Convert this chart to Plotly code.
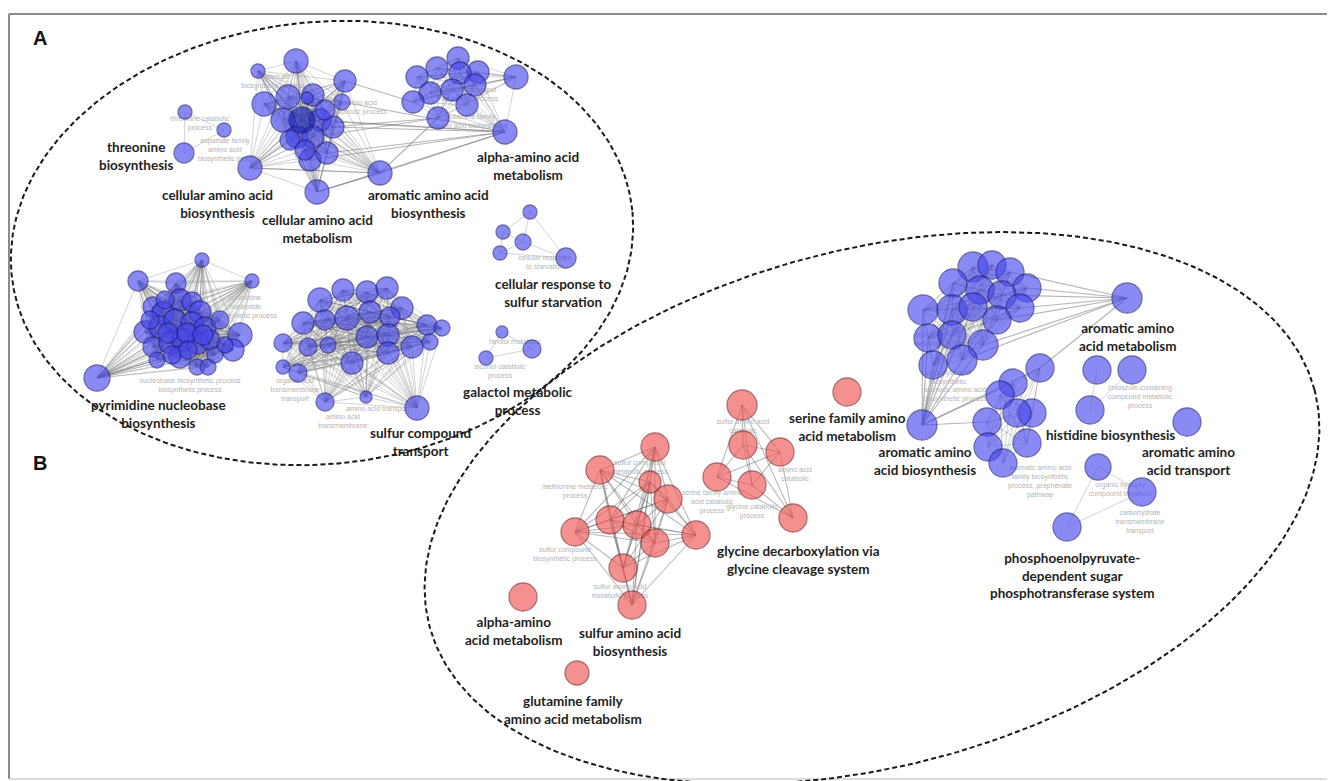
import itertools
import numpy as np
import plotly.graph_objects as go

W, H = 1335, 781
PAGE_MARGIN = 8  # browser body margin around the plot div

# ---------------- nodes (x, y in picture pixels, diameter) ----------------
thr_x = [185, 224, 184]
thr_y = [112, 130, 153]
thr_d = [14, 14, 20]

cel_x = [258, 296, 345, 264, 288, 313, 307, 283, 320, 333, 342, 297, 313, 310, 327, 250, 317, 380,
         290, 325, 305]
cel_y = [71, 61, 81, 104, 97, 95, 98, 120, 120, 127, 102, 137, 137, 160, 153, 168, 192, 173,
         140, 110, 150]
cel_d = [14, 24, 22, 24, 24, 22, 12, 24, 22, 22, 16, 22, 22, 22, 22, 24, 24, 24,
         20, 20, 20]

hub_x = [302]
hub_y = [120]
hub_d = [26]

alp_x = [458, 437, 478, 417, 460, 475, 430, 452, 413, 467, 438, 516, 505]
alp_y = [58, 68, 72, 77, 73, 85, 93, 90, 102, 105, 118, 77, 132]
alp_d = [22, 22, 22, 22, 22, 22, 22, 22, 22, 22, 22, 24, 24]

crs_x = [530, 503, 523, 500, 566]
crs_y = [212, 232, 242, 253, 258]
crs_d = [14, 14, 16, 14, 20]

gal_x = [502, 532, 486]
gal_y = [332, 349, 358]
gal_d = [12, 18, 14]

pyr_x = [202, 138, 176, 252, 97, 240, 233, 153, 163, 180, 192, 200, 145, 160, 175, 192, 205,
         153, 170, 183, 198, 210, 157, 180, 197, 208, 165, 220,
         168, 187, 203, 172, 188, 215, 150, 225]
pyr_y = [260, 281, 283, 281, 378, 335, 350, 307, 313, 300, 302, 312, 332, 327, 320, 323, 328,
         347, 343, 340, 343, 340, 360, 357, 367, 367, 300, 320,
         333, 333, 335, 355, 350, 355, 320, 345]
pyr_d = [14, 20, 20, 14, 26, 24, 22, 20, 22, 22, 20, 22, 22, 22, 22, 22, 22,
         20, 22, 22, 22, 20, 16, 22, 16, 16, 18, 18,
         20, 20, 20, 18, 18, 16, 18, 16]

sul_x = [320, 343, 367, 387, 303, 325, 347, 370, 402, 390, 427, 442, 283, 308, 328, 367, 388,
         388, 412, 430, 352, 283, 298, 325, 366, 417]
sul_y = [300, 290, 292, 288, 323, 320, 318, 312, 308, 317, 325, 328, 343, 347, 345, 337, 335,
         353, 347, 342, 363, 367, 373, 402, 397, 408]
sul_d = [24, 22, 22, 22, 22, 20, 24, 22, 22, 20, 20, 16, 18, 18, 16, 22, 22,
         22, 22, 16, 22, 14, 18, 18, 12, 24]

bb_x = [973, 992, 1010, 953, 1027, 980, 1002, 923, 952, 973, 1020, 997, 928, 952, 983, 933, 962]
bb_y = [267, 265, 272, 283, 288, 290, 295, 310, 310, 307, 308, 320, 338, 335, 345, 365, 360]
bb_d = [30, 28, 28, 28, 28, 28, 28, 30, 30, 28, 28, 28, 28, 28, 30, 28, 30]

aam_x = [1127]
aam_y = [298]
aam_d = [30]

aab_x = [922]
aab_y = [425]
aab_d = [30]

hb_x = [1040, 1013, 1000, 1032, 1017, 987, 1027, 988, 1003]
hb_y = [368, 383, 395, 413, 413, 422, 443, 447, 463]
hb_d = [28, 28, 28, 28, 28, 28, 28, 28, 28]

his_x = [1097, 1132, 1090]
his_y = [370, 370, 410]
his_d = [28, 28, 28]

aat_x = [1187]
aat_y = [422]
aat_d = [28]

pts_x = [1098, 1142, 1067]
pts_y = [467, 492, 527]
pts_d = [26, 28, 28]

ser_x = [847]
ser_y = [392]
ser_d = [28]

gly_x = [742, 743, 780, 717, 752, 793]
gly_y = [405, 445, 452, 477, 485, 518]
gly_d = [30, 28, 28, 28, 28, 28]

saa_x = [655, 600, 650, 668, 610, 637, 575, 655, 696, 623, 632]
saa_y = [447, 470, 482, 499, 520, 525, 532, 543, 535, 568, 605]
saa_d = [28, 28, 22, 28, 28, 28, 28, 28, 28, 28, 28]

ala_x = [523]
ala_y = [597]
ala_d = [28]

gln_x = [577]
gln_y = [673]
gln_d = [24]

# ---------------- cluster labels ----------------
label_text = [
    "threonine<br>biosynthesis",
    "cellular amino acid<br>biosynthesis",
    "cellular amino acid<br>metabolism",
    "aromatic amino acid<br>biosynthesis",
    "alpha-amino acid<br>metabolism",
    "cellular response to<br>sulfur starvation",
    "galactol metabolic<br>process",
    "pyrimidine nucleobase<br>biosynthesis",
    "sulfur compound<br>transport",
    "aromatic amino<br>acid metabolism",
    "aromatic amino<br>acid biosynthesis",
    "histidine biosynthesis",
    "aromatic amino<br>acid transport",
    "phosphoenolpyruvate-<br>dependent sugar<br>phosphotransferase system",
    "serine family amino<br>acid metabolism",
    "glycine decarboxylation via<br>glycine cleavage system",
    "sulfur amino acid<br>biosynthesis",
    "alpha-amino<br>acid metabolism",
    "glutamine family<br>amino acid metabolism",
]
label_x = [136, 217, 317, 428, 528, 553, 518, 158, 420, 1128, 925, 1110, 1188, 1072, 847, 798, 630, 514, 573]
label_y = [156, 204, 229, 204, 166, 293, 401, 414, 442, 337, 461, 435, 461, 575, 427, 560, 642, 631, 710]

# faint term labels
term_text = [
    "threonine catabolic<br>process", "aspartate family<br>amino acid<br>biosynthetic proc.",
    "chorismate<br>biosynthetic process", "amino acid<br>catabolic process",
    "sulfur compound<br>metabolic process", "glutamine family<br>amino acid biosynthesis",
    "cellular response<br>to starvation", "alcohol catabolic<br>process", "hexitol metabolic",
    "pyrimidine<br>nucleotide<br>biosynthetic process", "nucleobase biosynthetic process<br>biosynthetic process",
    "organic acid<br>transmembrane<br>transport", "amino acid<br>transmembrane", "amino acid transport",
    "alpha-amino acid<br>metabolic process", "carboxylic acid<br>biosynthetic", "aromatic amino acid<br>biosynthetic process",
    "imidazole-containing<br>compound metabolic<br>process", "organic hydroxy<br>compound transport",
    "carbohydrate<br>transmembrane<br>transport", "aromatic amino acid<br>family biosynthetic<br>process, prephenate<br>pathway",
    "sulfur compound<br>metabolic process", "serine family amino<br>acid catabolic<br>process",
    "glycine catabolic<br>process", "sulfur amino acid<br>metabolic process", "methionine metabolic<br>process",
    "sulfur amino acid<br>catabolic", "amino acid<br>catabolic", "sulfur compound<br>biosynthetic process",
]
term_x = [200, 225, 273, 360, 470, 470, 545, 500, 515, 245, 190, 295, 343, 378, 942, 948, 955,
          1140, 1120, 1140, 1040, 640, 712, 752, 620, 575, 743, 795, 565]
term_y = [124, 150, 82, 108, 95, 122, 263, 372, 342, 307, 386, 390, 422, 409, 340, 378, 395,
          397, 490, 522, 482, 468, 502, 512, 592, 492, 427, 475, 555]

# ---------------- explicit edges ----------------
thr_edges = [(0, 2), (1, 2), (0, 1)]
crs_edges = [(0, 1), (0, 2), (0, 4), (1, 2), (2, 3), (1, 3), (2, 4), (3, 4)]
gal_edges = [(0, 1), (1, 2), (0, 2)]
his_edges = [(1, 2), (0, 2)]
pts_edges = [(0, 1), (1, 2), (0, 2)]
# edges between clusters (source cluster, index, target cluster, index)
cross_edges = [
    ("cel", 17, "alp", 12), ("cel", 9, "alp", 12), ("cel", 10, "alp", 12), ("cel", 8, "alp", 12),
    ("cel", 14, "alp", 12), ("cel", 16, "alp", 12), ("cel", 2, "alp", 8), ("cel", 9, "alp", 10),
    ("cel", 17, "alp", 10), ("cel", 13, "alp", 12), ("cel", 12, "alp", 10), ("cel", 16, "cel", 17),
    ("cel", 15, "cel", 17), ("hub", 0, "alp", 12), ("cel", 0, "hub", 0), ("cel", 1, "hub", 0),
    ("cel", 3, "hub", 0), ("cel", 15, "hub", 0), ("cel", 16, "hub", 0), ("cel", 17, "hub", 0),
    ("cel", 2, "hub", 0),
    ("bb", 4, "aam", 0), ("bb", 10, "aam", 0), ("bb", 6, "aam", 0), ("bb", 11, "aam", 0),
    ("bb", 14, "aam", 0), ("bb", 2, "aam", 0), ("bb", 16, "aam", 0), ("hb", 0, "aam", 0),
    ("bb", 7, "aab", 0), ("bb", 12, "aab", 0), ("bb", 15, "aab", 0), ("bb", 16, "aab", 0),
    ("bb", 13, "aab", 0), ("bb", 8, "aab", 0), ("bb", 14, "aab", 0), ("bb", 3, "aab", 0),
    ("hb", 0, "aab", 0), ("hb", 1, "aab", 0), ("hb", 5, "aab", 0), ("bb", 9, "aab", 0),
]
dense_blue = ["cel", "alp", "pyr", "sul", "bb", "hb"]
dense_red = ["gly", "saa"]

# ---------------- assemble ----------------
blue = "rgba(72,72,238,0.9)"
blue_line = "rgba(30,30,130,0.9)"
red = "rgba(240,85,85,0.92)"
red_line = "rgba(125,35,35,0.9)"

clusters = {
    "thr": (thr_x, thr_y, thr_d, blue, blue_line),
    "cel": (cel_x, cel_y, cel_d, blue, blue_line),
    "hub": (hub_x, hub_y, hub_d, "rgba(20,35,180,0.97)", blue_line),
    "alp": (alp_x, alp_y, alp_d, blue, blue_line),
    "crs": (crs_x, crs_y, crs_d, blue, blue_line),
    "gal": (gal_x, gal_y, gal_d, blue, blue_line),
    "pyr": (pyr_x, pyr_y, pyr_d, blue, blue_line),
    "sul": (sul_x, sul_y, sul_d, blue, blue_line),
    "bb": (bb_x, bb_y, bb_d, blue, blue_line),
    "aam": (aam_x, aam_y, aam_d, blue, blue_line),
    "aab": (aab_x, aab_y, aab_d, blue, blue_line),
    "hb": (hb_x, hb_y, hb_d, blue, blue_line),
    "his": (his_x, his_y, his_d, blue, blue_line),
    "aat": (aat_x, aat_y, aat_d, blue, blue_line),
    "pts": (pts_x, pts_y, pts_d, blue, blue_line),
    "ser": (ser_x, ser_y, ser_d, red, red_line),
    "gly": (gly_x, gly_y, gly_d, red, red_line),
    "saa": (saa_x, saa_y, saa_d, red, red_line),
    "ala": (ala_x, ala_y, ala_d, red, red_line),
    "gln": (gln_x, gln_y, gln_d, red, red_line),
}

explicit = {"thr": thr_edges, "crs": crs_edges, "gal": gal_edges, "his": his_edges, "pts": pts_edges}

fig = go.Figure()


def add_edges(pairs, color, width):
    ex, ey = [], []
    for (ax, ay, bx, by) in pairs:
        ex += [ax, bx, None]
        ey += [ay, by, None]
    fig.add_trace(go.Scatter(x=ex, y=ey, mode="lines", hoverinfo="skip",
                             line=dict(color=color, width=width), showlegend=False))


grey_pairs, red_pairs = [], []
for name, pairs in explicit.items():
    xs, ys = clusters[name][0], clusters[name][1]
    for i, j in pairs:
        grey_pairs.append((xs[i], ys[i], xs[j], ys[j]))
for name in dense_blue:
    xs, ys = clusters[name][0], clusters[name][1]
    for i, j in itertools.combinations(range(len(xs)), 2):
        grey_pairs.append((xs[i], ys[i], xs[j], ys[j]))
for name in dense_red:
    xs, ys = clusters[name][0], clusters[name][1]
    for i, j in itertools.combinations(range(len(xs)), 2):
        red_pairs.append((xs[i], ys[i], xs[j], ys[j]))
cross_pairs = []
for a, i, b, j in cross_edges:
    cross_pairs.append((clusters[a][0][i], clusters[a][1][i], clusters[b][0][j], clusters[b][1][j]))

add_edges(grey_pairs, "rgba(110,110,110,0.3)", 1)
add_edges(cross_pairs, "rgba(120,120,120,0.55)", 1.2)
add_edges(red_pairs, "rgba(90,105,105,0.45)", 1.1)

# faint term labels (under the nodes)
fig.add_trace(go.Scatter(x=term_x, y=term_y, mode="text", text=term_text, hoverinfo="skip",
                         textfont=dict(family="Liberation Sans", size=7, color="#b4b4b4"),
                         showlegend=False))

for name, (xs, ys, ds, fc, lc) in clusters.items():
    fig.add_trace(go.Scatter(x=xs, y=ys, mode="markers", hoverinfo="skip", showlegend=False,
                             marker=dict(size=ds, color=fc, line=dict(color=lc, width=1.3))))

# dashed ellipses (centre, semi-axes, tilt) drawn as lines
ellipses = [(322, 243, 312, 221, 6), (872, 508, 458, 258, 15)]
t = np.linspace(0, 2 * np.pi, 400)
for cx, cy, a, b, ang in ellipses:
    th = np.deg2rad(ang)
    ex = cx + a * np.cos(t) * np.cos(th) - b * np.sin(t) * np.sin(th)
    ey = cy - (a * np.cos(t) * np.sin(th) + b * np.sin(t) * np.cos(th))
    fig.add_trace(go.Scatter(x=ex, y=ey, mode="lines", hoverinfo="skip", showlegend=False,
                             line=dict(color="#1a1a1a", width=2, dash="5px,3px")))

for txt, x, y in zip(label_text, label_x, label_y):
    fig.add_annotation(x=x, y=y, text="<b>" + txt + "</b>", showarrow=False,
                       font=dict(family="Lato", size=13.5, color="#1e1e1e"),
                       xanchor="center", yanchor="middle", align="center")

fig.add_annotation(x=40, y=38, text="<b>A</b>", showarrow=False,
                   font=dict(family="Liberation Sans", size=20, color="#111"))
fig.add_annotation(x=40, y=463, text="<b>B</b>", showarrow=False,
                   font=dict(family="Liberation Sans", size=20, color="#111"))

# panel frame: top, left and bottom edges only
frame = dict(color="#8c8c8c", width=2)
fig.add_shape(type="line", x0=9, y0=14, x1=W, y1=14, line=frame, layer="below")
fig.add_shape(type="line", x0=9, y0=14, x1=9, y1=779, line=frame, layer="below")
fig.add_shape(type="line", x0=9, y0=779, x1=W, y1=779,
              line=dict(color="#d0d0d0", width=1.5), layer="below")

fig.update_layout(
    width=W - PAGE_MARGIN, height=H - PAGE_MARGIN, margin=dict(l=0, r=0, t=0, b=0),
    paper_bgcolor="white", plot_bgcolor="white",
    xaxis=dict(range=[PAGE_MARGIN, W], visible=False, fixedrange=True),
    yaxis=dict(range=[H, PAGE_MARGIN], visible=False, fixedrange=True),
    showlegend=False,
)

fig.write_html("out.html")
